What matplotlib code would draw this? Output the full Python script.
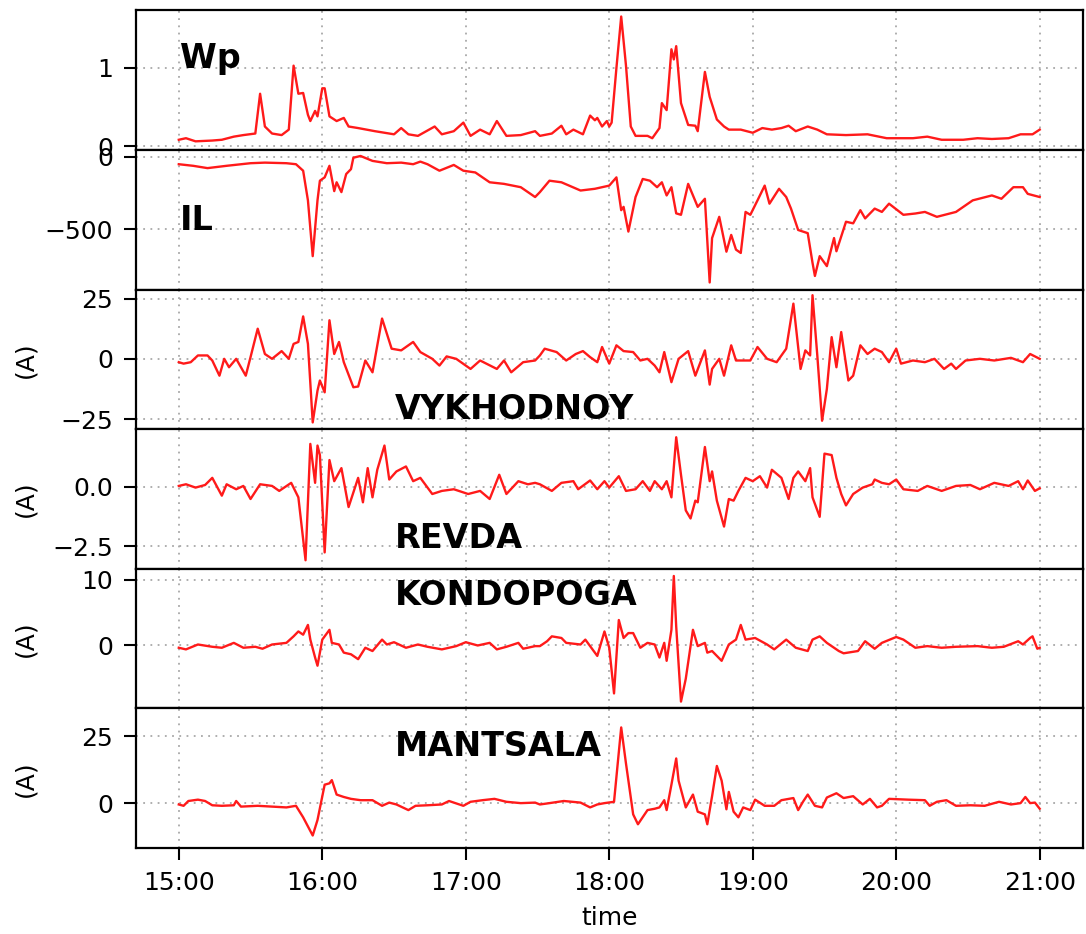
from datetime import datetime, timedelta

import matplotlib

matplotlib.use("Agg")

import matplotlib.dates as mdates  # noqa: E402
import matplotlib.pyplot as plt  # noqa: E402

_RED = "#ff1a1a"
_GRID = "#a8a8a8"
_T0 = datetime(2000, 1, 1, 15, 0)

hour_ticks = ["15:00", "16:00", "17:00", "18:00", "19:00", "20:00", "21:00"]

# minutes after 15:00 and values
wp_min = [0, 3, 7, 14, 18, 23, 27, 32, 34, 36,
          39, 43, 46, 48, 50, 52, 54, 55, 57, 58,
          60, 61, 63, 66, 69, 71, 75, 82, 90, 93,
          96, 100, 107, 110, 115, 119, 122, 126, 130, 133,
          137, 143, 149, 151, 156, 160, 162, 165, 169, 172,
          174, 175, 177, 179, 180, 181, 183, 185, 187, 189,
          191, 196, 198, 201, 202, 204, 206, 207, 208, 210,
          213, 216, 217, 220, 222, 225, 228, 230, 235, 240,
          244, 248, 252, 255, 258, 263, 267, 271, 279, 288,
          296, 307, 313, 319, 328, 334, 340, 347, 352, 357,
          360]
wp_val = [0.08, 0.10, 0.06, 0.07, 0.08, 0.12, 0.14, 0.16, 0.67, 0.25,
          0.16, 0.14, 0.21, 1.03, 0.67, 0.68, 0.40, 0.32, 0.45, 0.38,
          0.74, 0.74, 0.38, 0.32, 0.36, 0.25, 0.23, 0.19, 0.15, 0.23,
          0.15, 0.13, 0.25, 0.15, 0.19, 0.30, 0.13, 0.21, 0.15, 0.32,
          0.13, 0.14, 0.19, 0.13, 0.16, 0.26, 0.15, 0.21, 0.15, 0.39,
          0.33, 0.36, 0.25, 0.32, 0.25, 0.30, 1.00, 1.66, 1.03, 0.25,
          0.13, 0.13, 0.10, 0.23, 0.55, 0.46, 1.24, 1.11, 1.28, 0.55,
          0.27, 0.26, 0.19, 0.95, 0.63, 0.34, 0.25, 0.21, 0.21, 0.17,
          0.23, 0.21, 0.23, 0.26, 0.19, 0.25, 0.21, 0.15, 0.14, 0.15,
          0.10, 0.10, 0.12, 0.08, 0.08, 0.10, 0.09, 0.10, 0.15, 0.15,
          0.21]

il_min = [0, 6, 12, 20, 30, 36, 45, 49, 52, 54,
          56, 58, 59, 61, 63, 65, 66, 68, 70, 72,
          73, 76, 81, 87, 93, 98, 101, 104, 109, 115,
          119, 124, 130, 136, 143, 149, 151, 155, 160, 168,
          174, 180, 183, 185, 186, 188, 191, 194, 197, 200,
          202, 204, 206, 208, 210, 213, 217, 220, 222, 223,
          226, 229, 231, 233, 235, 237, 239, 242, 245, 247,
          251, 254, 256, 259, 263, 265, 266, 268, 271, 274,
          275, 279, 282, 285, 287, 291, 294, 297, 303, 308,
          312, 317, 325, 332, 340, 344, 349, 353, 355, 360]
il_val = [-50, -61, -77, -61, -43, -39, -43, -50, -95, -300,
          -686, -300, -164, -141, -61, -236, -175, -243, -118, -84,
          -5, 7, -27, -43, -39, -50, -32, -50, -95, -55,
          -95, -107, -175, -186, -209, -277, -243, -164, -175, -232,
          -220, -198, -141, -368, -345, -516, -277, -152, -164, -209,
          -175, -266, -209, -390, -400, -186, -345, -289, -868, -561,
          -414, -655, -539, -641, -664, -380, -400, -300, -198, -323,
          -220, -277, -357, -505, -527, -732, -823, -686, -755, -561,
          -652, -448, -459, -368, -425, -357, -380, -323, -400, -391,
          -380, -414, -380, -300, -266, -289, -209, -209, -255, -277]

vyk_min = [0, 2, 5, 8, 12, 14, 17, 19, 21, 24,
           28, 30, 33, 36, 39, 43, 46, 48, 50, 52,
           54, 56, 58, 59, 61, 63, 65, 67, 69, 73,
           75, 78, 81, 85, 89, 93, 95, 98, 101, 106,
           109, 112, 116, 122, 126, 133, 136, 139, 144, 149,
           151, 153, 158, 162, 166, 169, 172, 175, 177, 180,
           183, 186, 190, 193, 196, 199, 201, 203, 206, 209,
           213, 216, 220, 222, 223, 226, 228, 231, 233, 239,
           242, 246, 250, 254, 257, 260, 262, 264, 265, 267,
           269, 271, 273, 275, 277, 280, 282, 285, 288, 291,
           294, 297, 300, 302, 307, 312, 316, 320, 323, 325,
           329, 335, 341, 348, 353, 356, 360]
vyk_val = [-1.4, -2.0, -1.4, 1.4, 1.4, -0.7, -7.0, 0.0, -3.5, 0.0,
           -7.0, 0.7, 12.5, 2.0, 0.0, 3.2, 0.0, 6.2, 7.0, 17.6,
           6.2, -26.4, -13.2, -9.0, -13.9, 16.0, 2.0, 7.0, -1.4, -11.8,
           -11.5, -0.7, -5.6, 16.7, 4.2, 3.5, 4.9, 7.0, 2.8, 0.0,
           -2.8, 1.0, 0.0, -4.2, -0.7, -4.2, -0.7, -5.6, -1.4, -0.7,
           1.4, 4.2, 2.8, -0.7, 2.0, 3.2, 0.7, -1.4, 4.9, -2.0,
           5.6, 3.2, 2.8, -0.7, 0.0, -2.8, -5.6, 2.8, -9.7, 0.0,
           3.2, -7.0, 3.5, -10.7, -4.2, 0.0, -7.0, 5.6, -0.7, -0.7,
           4.9, 0.0, -1.4, 4.2, 22.9, -4.2, 3.5, 1.4, 26.4, 1.4,
           -25.7, -12.5, 9.0, -3.5, 11.1, -9.0, -7.0, 5.6, 2.0, 4.2,
           2.8, -1.4, 4.2, -2.0, -0.7, -1.4, 0.0, -4.2, -2.0, -4.2,
           -0.7, 0.0, -0.7, 0.4, -1.4, 2.0, 0.0]

rev_min = [0, 3, 7, 11, 14, 18, 20, 24, 27, 30,
           34, 39, 42, 47, 50, 53, 55, 57, 58, 59,
           61, 63, 65, 68, 71, 75, 77, 79, 81, 83,
           86, 88, 91, 95, 98, 101, 106, 110, 115, 121,
           126, 130, 134, 137, 142, 146, 149, 151, 156, 160,
           165, 167, 172, 175, 178, 180, 184, 187, 191, 194,
           197, 199, 202, 204, 206, 208, 210, 212, 214, 216,
           217, 220, 222, 223, 225, 228, 230, 232, 234, 237,
           240, 243, 246, 248, 252, 255, 257, 259, 262, 264,
           265, 268, 270, 273, 275, 277, 279, 282, 286, 290,
           291, 294, 297, 300, 303, 309, 313, 319, 325, 331,
           335, 341, 347, 351, 353, 355, 358, 360]
rev_val = [0.03, 0.10, -0.04, 0.07, 0.37, -0.38, 0.10, -0.11, 0.03, -0.52,
           0.10, 0.03, -0.18, 0.16, -0.45, -3.10, 1.80, 0.16, 1.73, 1.33,
           -2.77, 1.12, 0.23, 0.78, -0.86, 0.37, -0.66, 0.78, -0.45, 0.71,
           1.73, 0.30, 0.64, 0.85, 0.23, 0.37, -0.31, -0.18, -0.11, -0.31,
           -0.18, -0.52, 0.50, -0.31, 0.23, 0.10, 0.16, 0.10, -0.18, 0.16,
           0.23, -0.11, 0.26, -0.11, 0.23, -0.04, 0.44, -0.18, -0.11, 0.23,
           -0.18, 0.23, -0.11, 0.23, -0.45, 2.08, 0.50, -1.00, -1.34, -0.59,
           -0.66, 1.67, 0.23, 0.64, -0.59, -1.68, -0.52, -0.59, -0.18, 0.37,
           0.23, 0.44, -0.04, 0.71, 0.37, -0.52, 0.37, 0.64, 0.23, 0.78,
           -0.45, -1.27, 1.39, 1.33, 0.37, -0.31, -0.79, -0.31, -0.04, 0.10,
           0.30, 0.16, 0.10, 0.30, -0.11, -0.18, 0.03, -0.18, 0.03, 0.07,
           -0.11, 0.16, 0.03, 0.23, -0.11, 0.26, -0.18, -0.07]

kon_min = [0, 3, 8, 14, 18, 23, 27, 32, 35, 39,
           45, 48, 50, 52, 54, 55, 57, 58, 60, 61,
           63, 64, 67, 69, 72, 75, 78, 81, 85, 87,
           90, 95, 100, 104, 110, 116, 120, 125, 130, 133,
           137, 142, 144, 149, 151, 154, 156, 160, 162, 168,
           170, 175, 178, 180, 182, 184, 186, 188, 190, 193,
           196, 199, 201, 203, 204, 206, 207, 208, 210, 212,
           215, 217, 220, 221, 223, 227, 230, 233, 235, 237,
           241, 246, 249, 254, 258, 263, 265, 268, 271, 276,
           278, 284, 287, 291, 294, 300, 303, 308, 313, 319,
           325, 334, 340, 345, 351, 353, 356, 357, 359, 360]
kon_val = [-0.40, -0.65, 0.10, -0.25, -0.40, 0.35, -0.40, -0.25, -0.55, 0.10,
           0.35, 1.35, 2.10, 1.60, 3.10, 0.85, -1.90, -3.15, 0.85, 1.35,
           2.35, 0.35, 0.10, -1.15, -1.40, -2.15, -0.40, -0.90, 0.85, 0.10,
           0.45, -0.40, 0.10, -0.25, -0.65, -0.15, 0.45, -0.05, 0.35, -0.65,
           -0.25, 0.35, -0.55, -0.15, -0.15, 0.60, 1.35, 1.10, 0.35, 0.10,
           0.85, -1.65, 2.10, -0.40, -7.40, 3.85, 1.10, 1.85, 1.85, -0.40,
           0.35, 0.10, -1.90, 0.35, -2.40, 2.35, 10.60, 2.85, -8.65, -5.15,
           2.35, -0.15, 0.35, -1.15, -0.90, -2.40, 0.10, 0.85, 3.10, 0.85,
           1.10, 0.10, -0.65, 0.85, -0.40, -0.90, 0.85, 1.35, 0.35, -0.90,
           -1.25, -0.90, 0.60, -0.55, 0.35, 1.25, 0.85, -0.40, -0.15, -0.40,
           -0.25, -0.15, -0.40, -0.25, 0.60, 0.10, 1.10, 1.35, -0.55, -0.40]

man_min = [0, 2, 4, 8, 11, 14, 18, 23, 24, 26,
           33, 39, 45, 49, 52, 56, 58, 61, 63, 64,
           66, 69, 72, 76, 81, 85, 88, 91, 96, 99,
           104, 110, 113, 119, 122, 127, 132, 137, 143, 149,
           151, 155, 161, 168, 172, 175, 178, 182, 185, 187,
           190, 192, 196, 199, 201, 203, 204, 206, 208, 209,
           212, 215, 217, 220, 221, 223, 225, 227, 229, 230,
           232, 234, 236, 239, 241, 245, 249, 252, 257, 259,
           261, 263, 266, 269, 271, 275, 278, 282, 286, 289,
           292, 294, 297, 305, 312, 314, 317, 321, 325, 331,
           337, 343, 348, 352, 354, 356, 358, 360]
man_val = [-0.5, -1.0, 0.8, 1.3, 0.8, -0.8, -1.0, -0.8, 0.8, -1.3,
           -1.0, -1.3, -1.6, -1.0, -5.3, -12.1, -6.3, 6.9, 7.4, 8.6,
           3.2, 2.3, 1.6, 1.1, 1.1, -1.0, 0.2, -0.5, -2.6, -1.0,
           -0.8, -0.5, 0.8, -1.0, 0.5, 1.1, 1.6, 0.5, 0.0, 0.2,
           -0.5, 0.0, 0.8, 0.2, -1.6, -0.5, 0.0, 0.5, 28.3, 14.8,
           -4.2, -7.9, -2.6, -2.1, -1.6, 1.1, -2.6, 6.9, 16.7, 8.4,
           -1.6, 3.2, -3.2, -4.2, -7.9, 2.6, 13.9, 8.4, -2.3, 4.2,
           -3.2, -5.3, -1.6, -2.6, 1.3, -1.0, -1.0, 1.1, 1.9, -2.6,
           0.5, 3.2, -1.0, -1.6, 2.1, 3.7, 1.9, 2.6, -0.5, 1.6,
           -1.6, -1.0, 1.6, 1.3, 1.1, -1.0, 0.5, 1.1, -1.0, -0.8,
           -1.0, 0.5, -0.5, 0.0, 2.3, 0.0, 0.2, -2.1]

series = [
    ("Wp", wp_min, wp_val),
    ("IL", il_min, il_val),
    ("VYKHODNOY", vyk_min, vyk_val),
    ("REVDA", rev_min, rev_val),
    ("KONDOPOGA", kon_min, kon_val),
    ("MANTSALA", man_min, man_val),
]

# per-panel axis setup: ylim, yticks, ylabel, label position (axes coords)
y_limits = [(-0.05, 1.74), (-917, 49), (-29.2, 28.75), (-3.46, 2.42), (-9.7, 11.7), (-16.8, 35.4)]
y_ticks = [[0, 1], [-500, 0], [-25, 0, 25], [-2.5, 0.0], [0, 10], [0, 25]]
y_labels = ["", "", "(A)", "(A)", "(A)", "(A)"]
name_pos = [(0.047, 0.586), (0.047, 0.424), (0.274, 0.072), (0.274, 0.149), (0.274, 0.741), (0.274, 0.657)]


def to_time(minutes):
    return [_T0 + timedelta(minutes=m) for m in minutes]


fig, axes = plt.subplots(6, 1, sharex=True, figsize=(10.86, 9.34), dpi=100)
fig.subplots_adjust(left=0.125, right=0.997, top=0.989, bottom=0.092, hspace=0)

for i, (ax, (name, mins, vals)) in enumerate(zip(axes, series)):
    ax.plot(to_time(mins), vals, color=_RED, linewidth=1.7)
    ax.set_ylim(*y_limits[i])
    ax.set_yticks(y_ticks[i])
    ax.grid(True, linestyle=(0, (1, 3)), color=_GRID, linewidth=1.3)
    ax.tick_params(labelsize=18, length=8.5, width=1.5, pad=8)
    for spine in ax.spines.values():
        spine.set_linewidth(1.6)
    if y_labels[i]:
        ax.set_ylabel(y_labels[i], fontsize=18)
        ax.yaxis.set_label_coords(-0.104, 0.5)
    ax.text(name_pos[i][0], name_pos[i][1], name, transform=ax.transAxes,
            fontsize=24, fontweight="bold", ha="left", va="baseline")
    if i < len(axes) - 1:
        ax.tick_params(axis="x", bottom=False)

bottom = axes[-1]
tick_times = [datetime.strptime("2000-01-01 " + h, "%Y-%m-%d %H:%M") for h in hour_ticks]
bottom.set_xticks(tick_times)
bottom.xaxis.set_major_formatter(mdates.DateFormatter("%H:%M"))
bottom.set_xlabel("time", fontsize=18, labelpad=8)

fig.savefig("out.png", dpi=100)
